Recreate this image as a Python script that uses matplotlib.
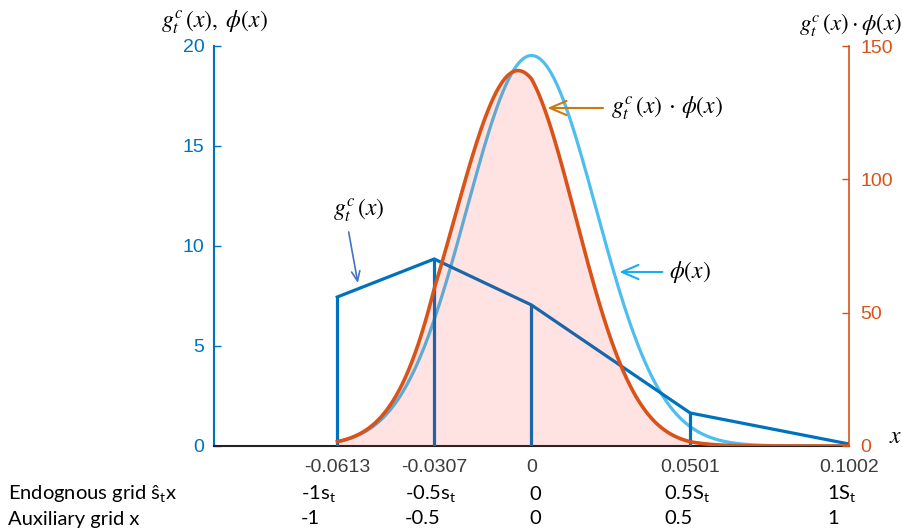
import numpy as np
import matplotlib.pyplot as plt

plt.rcParams["font.family"] = ["Liberation Sans", "DejaVu Sans"]

# grid of the consumption policy and its values
s_t = 0.0613
S_t = 0.1002
grid_x = [-0.0613, -0.0307, 0.0, 0.0501, 0.1002]
g_vals = [7.45, 9.35, 7.05, 1.65, 0.1]
tick_labels = ["-0.0613", "-0.0307", "0", "0.0501", "0.1002"]
endo_labels = ["-1s$_\\mathregular{t}$", "-0.5s$_\\mathregular{t}$", "0",
               "0.5S$_\\mathregular{t}$", "1S$_\\mathregular{t}$"]
aux_labels = ["-1", "-0.5", "0", "0.5", "1"]

# shock density: normal, sd = s_t / 3
sigma = s_t / 3.0

blue = "#0072BD"
orange = "#D95319"
light = "#4DBEEE"

fig = plt.figure(figsize=(9.04, 5.32), dpi=100)
ax1 = fig.add_axes([214/904, 86/532, 635/904, 400/532])
ax2 = ax1.twinx()

xs = np.linspace(-S_t, S_t, 2001)
g = np.interp(xs, grid_x, g_vals, left=0.0, right=0.0)
phi = np.exp(-0.5*(xs/sigma)**2)/(sigma*np.sqrt(2*np.pi))
inside = (xs >= grid_x[0]) & (xs <= grid_x[-1])

# policy function with its grid points
ax1.plot(grid_x, g_vals, color=blue, lw=2.3, solid_joinstyle="miter", zorder=3)
ax1.vlines(grid_x[:-1], 0, g_vals[:-1], color=blue, lw=2.3, zorder=3)
ax1.plot(xs[inside], phi[inside], color=light, lw=2.3, zorder=2)

# product on the right axis
prod = g*phi
shade = (xs >= grid_x[0]) & (xs <= grid_x[3])
ax2.fill_between(xs[shade], 0, prod[shade], color="red", alpha=0.11, lw=0)
ax2.plot(xs[inside], prod[inside], color=orange, lw=2.6)

ax1.set_xlim(-S_t, S_t)
ax1.set_ylim(0, 20)
ax2.set_ylim(0, 150)

ax1.set_xticks(grid_x)
ax1.set_xticklabels(tick_labels, fontsize=14, color="#3c3c3c")
ax1.tick_params(axis="x", length=0, pad=9)
ax1.set_yticks([0, 5, 10, 15, 20])
ax1.tick_params(axis="y", direction="in", length=5, color=blue, labelcolor=blue,
                labelsize=14, width=1, pad=7)
ax2.set_yticks([0, 50, 100, 150])
ax2.tick_params(axis="y", direction="in", length=5, color=orange, labelcolor=orange,
                labelsize=14, width=1, pad=8)

for ax in (ax1, ax2):
    ax.spines["top"].set_visible(False)
ax1.spines["right"].set_visible(False)
ax2.spines["left"].set_visible(False)
ax2.spines["bottom"].set_visible(False)
ax1.spines["left"].set_color(blue)
ax1.spines["left"].set_linewidth(1.5)
ax2.spines["right"].set_color(orange)
ax2.spines["right"].set_linewidth(1.2)
ax1.spines["bottom"].set_color("#222222")
ax1.spines["bottom"].set_linewidth(1.5)

# axis titles
fig.text(214/904, 1 - 22/532, r"$g_t^c\,(x),\;\phi(x)$", ha="center", va="center",
         fontsize=17, math_fontfamily="stix")
fig.text(850/904, 1 - 25/532, r"$g_t^c\,(x)\cdot\phi(x)$", ha="center", va="center",
         fontsize=16.5, math_fontfamily="stix")
fig.text(896/904, 1 - 437/532, r"$x$", ha="center", va="center",
         fontsize=17, math_fontfamily="stix")

# labels with arrows
arrow = "->,head_length=0.7,head_width=0.3"
ax1.text(-0.0545, 11.8, r"$g_t^c\,(x)$", ha="center", va="center", fontsize=17,
         math_fontfamily="stix")
ax1.annotate("", xy=(-0.0548, 8.15), xytext=(-0.0577, 10.7),
             arrowprops=dict(arrowstyle=arrow, color="#4472C4", lw=1.2,
                             shrinkA=0, shrinkB=0))
ax1.annotate(r"$g_t^c\,(x)\,\cdot\,\phi(x)$", xy=(0.0050, 16.9), xytext=(0.0252, 16.9),
             ha="left", va="center", fontsize=17, math_fontfamily="stix",
             arrowprops=dict(arrowstyle=arrow, color="#D0760F", lw=1.5,
                             shrinkA=4, shrinkB=0))
ax1.annotate(r"$\phi(x)$", xy=(0.0277, 8.7), xytext=(0.0435, 8.7),
             ha="left", va="center", fontsize=17, math_fontfamily="stix",
             arrowprops=dict(arrowstyle=arrow, color="#1AAEEE", lw=1.5,
                             shrinkA=3, shrinkB=0))

# grid rows under the axis
row_x = [301, 405, 529, 664, 827]
fs_row = 14.5
fig.text(8/904, 1 - 494/532, "Endognous grid ŝ$_\\mathregular{t}$x", ha="left",
         va="center", family="Lato", fontsize=fs_row)
fig.text(8/904, 1 - 519/532, "Auxiliary grid x", ha="left", va="center",
         family="Lato", fontsize=fs_row)
for px, e, a in zip(row_x, endo_labels, aux_labels):
    fig.text(px/904, 1 - 494/532, e, ha="left", va="center", family="Lato", fontsize=fs_row)
    fig.text(px/904, 1 - 519/532, a, ha="left", va="center", family="Lato", fontsize=fs_row)

fig.savefig("out.png", dpi=100)
